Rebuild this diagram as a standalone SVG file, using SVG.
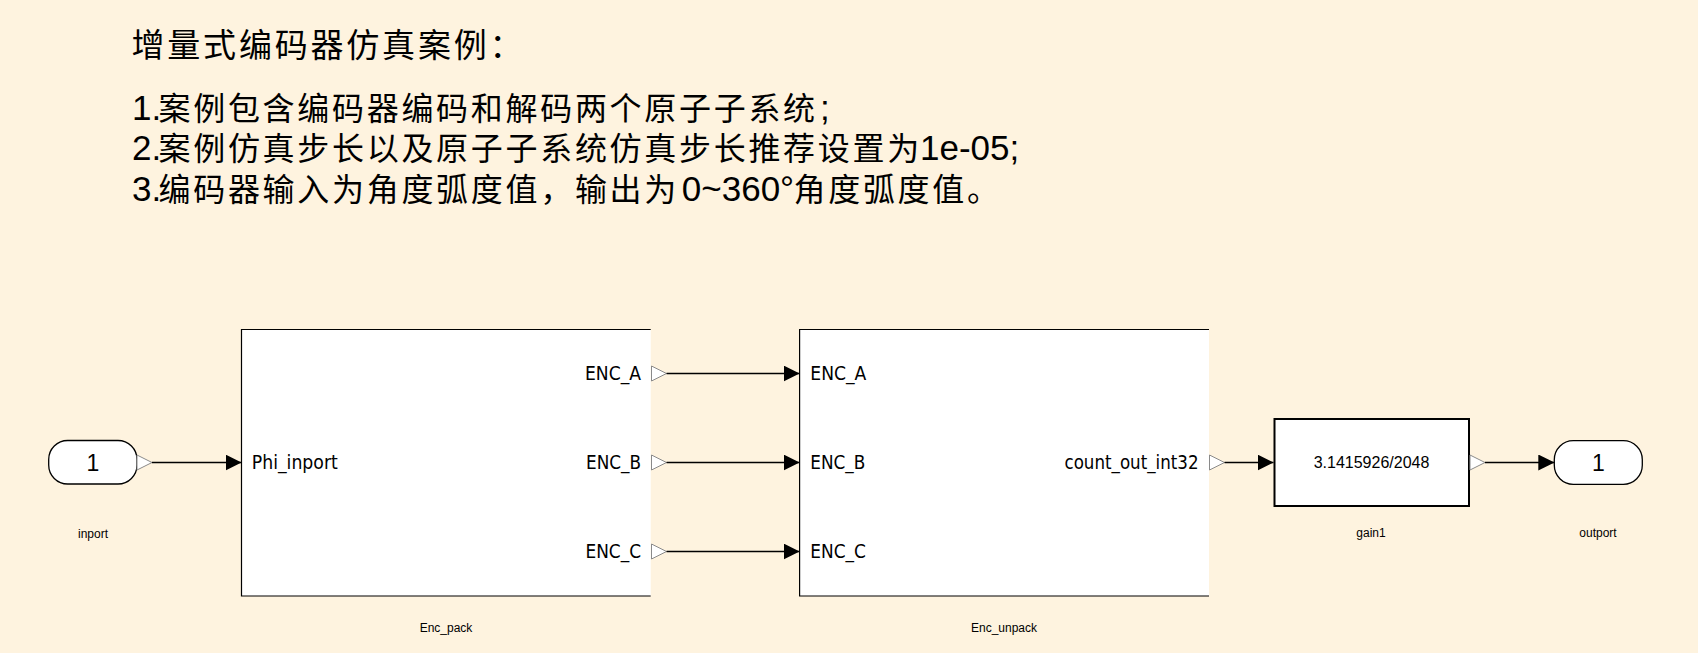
<svg xmlns="http://www.w3.org/2000/svg" width="1698" height="653" viewBox="0 0 1698 653">
<defs>
<style>
.bg{fill:#FEF3DF}
.t-lat{font-family:'Liberation Sans',Arial,sans-serif;font-size:35px;fill:#000}
.t-cjk{font-family:'Noto Sans CJK SC',sans-serif;font-size:32px;letter-spacing:2.7px;fill:#000}
.t-title{font-family:'Noto Sans CJK SC',sans-serif;font-size:33px;letter-spacing:2.8px;fill:#000}
.blk{fill:#fff;stroke:none}
.edge{fill:none;stroke:#000;stroke-width:1.2}
.gain{fill:#fff;stroke:#000;stroke-width:2}
.pill{fill:#fff;stroke:#000;stroke-width:1.3}
.port{fill:#fff;stroke:#8a8a8a;stroke-width:1}
.plbl{font-family:'DejaVu Sans Condensed','DejaVu Sans',sans-serif;font-size:19px;fill:#000}
.end{text-anchor:end}
.name{font-family:'Liberation Sans',Arial,sans-serif;font-size:12px;fill:#000;text-anchor:middle}
.num{font-family:'Liberation Sans',Arial,sans-serif;font-size:23px;fill:#000;text-anchor:middle}
.gtxt{font-family:'Liberation Sans',Arial,sans-serif;font-size:16px;fill:#000;text-anchor:middle}
.wire{fill:none;stroke:#000;stroke-width:1.3;marker-end:url(#arr)}
</style>
<marker id="arr" markerUnits="userSpaceOnUse" markerWidth="16" markerHeight="16" refX="16" refY="8" orient="auto" viewBox="0 0 16 16"><path d="M0,0 L16,8 L0,16 Z" fill="#000"/></marker>
<path id="pt" class="port" d="M0,-7.5 L15,0 L0,7.5 Z"/>
</defs>
<rect class="bg" x="0" y="0" width="1698" height="653"/>

<g id="notes">
<text class="t-title" x="131.5" y="57">增量式编码器仿真案例：</text>
<text y="120"><tspan class="t-lat" x="132">1.</tspan><tspan class="t-cjk" x="158.5">案例包含编码器编码和解码两个原子子系统</tspan><tspan class="t-lat" x="820">;</tspan></text>
<text y="160.3"><tspan class="t-lat" x="132">2.</tspan><tspan class="t-cjk" x="158.5">案例仿真步长以及原子子系统仿真步长推荐设置为</tspan><tspan class="t-lat" x="920">1e-05;</tspan></text>
<text y="200.6"><tspan class="t-lat" x="132">3.</tspan><tspan class="t-cjk" x="158.5">编码器输入为角度弧度值，输出为</tspan><tspan class="t-lat" x="681.8">0~360°</tspan><tspan class="t-cjk" x="793.5">角度弧度值。</tspan></text>
</g>

<g id="inport">
<rect class="pill" x="48.7" y="440.5" width="88.3" height="43.5" rx="19" ry="19"/>
<use href="#pt" x="137" y="462.5"/>
<text class="num" x="93" y="471">1</text>
<text class="name" x="93" y="537.5">inport</text>
</g>

<g id="Enc_pack">
<rect class="blk" x="241.5" y="329.5" width="409.2" height="266.5"/>
<path class="edge" d="M650.7,329.5 H241.5 V596 H650.7"/>
<text class="plbl" x="251.8" y="469.3" textLength="86" lengthAdjust="spacingAndGlyphs">Phi_inport</text>
<text class="plbl end" x="641" y="380.3" textLength="56" lengthAdjust="spacingAndGlyphs">ENC_A</text>
<text class="plbl end" x="641" y="469.3" textLength="55" lengthAdjust="spacingAndGlyphs">ENC_B</text>
<text class="plbl end" x="641" y="558.3" textLength="55.5" lengthAdjust="spacingAndGlyphs">ENC_C</text>
<use href="#pt" x="651.5" y="373.5"/>
<use href="#pt" x="651.5" y="462.5"/>
<use href="#pt" x="651.5" y="551.5"/>
<text class="name" x="446" y="631.7">Enc_pack</text>
</g>

<g id="Enc_unpack">
<rect class="blk" x="799.6" y="329.5" width="409.4" height="266.5"/>
<path class="edge" d="M1209,329.5 H799.6 V596 H1209"/>
<text class="plbl" x="810.3" y="380.3" textLength="56" lengthAdjust="spacingAndGlyphs">ENC_A</text>
<text class="plbl" x="810.3" y="469.3" textLength="55" lengthAdjust="spacingAndGlyphs">ENC_B</text>
<text class="plbl" x="810.3" y="558.3" textLength="55.5" lengthAdjust="spacingAndGlyphs">ENC_C</text>
<text class="plbl end" x="1198.5" y="469.3" textLength="134" lengthAdjust="spacingAndGlyphs">count_out_int32</text>
<use href="#pt" x="1209.5" y="462.5"/>
<text class="name" x="1004" y="631.7">Enc_unpack</text>
</g>

<g id="gain1">
<rect class="gain" x="1274.5" y="419" width="194.5" height="87"/>
<text class="gtxt" x="1371.5" y="467.7">3.1415926/2048</text>
<use href="#pt" x="1470" y="462.5"/>
<text class="name" x="1371" y="537.3">gain1</text>
</g>

<g id="outport">
<rect class="pill" x="1554.3" y="440.7" width="88" height="43.6" rx="19" ry="19"/>
<text class="num" x="1598.3" y="471">1</text>
<text class="name" x="1598" y="537.3">outport</text>
</g>

<g id="connectors">
<path class="wire" d="M152,462.5 H241.5"/>
<path class="wire" d="M666.5,373.5 H799.6"/>
<path class="wire" d="M666.5,462.5 H799.6"/>
<path class="wire" d="M666.5,551.5 H799.6"/>
<path class="wire" d="M1224.5,462.5 H1273.5"/>
<path class="wire" d="M1485,462.5 H1554.3"/>
</g>
</svg>
